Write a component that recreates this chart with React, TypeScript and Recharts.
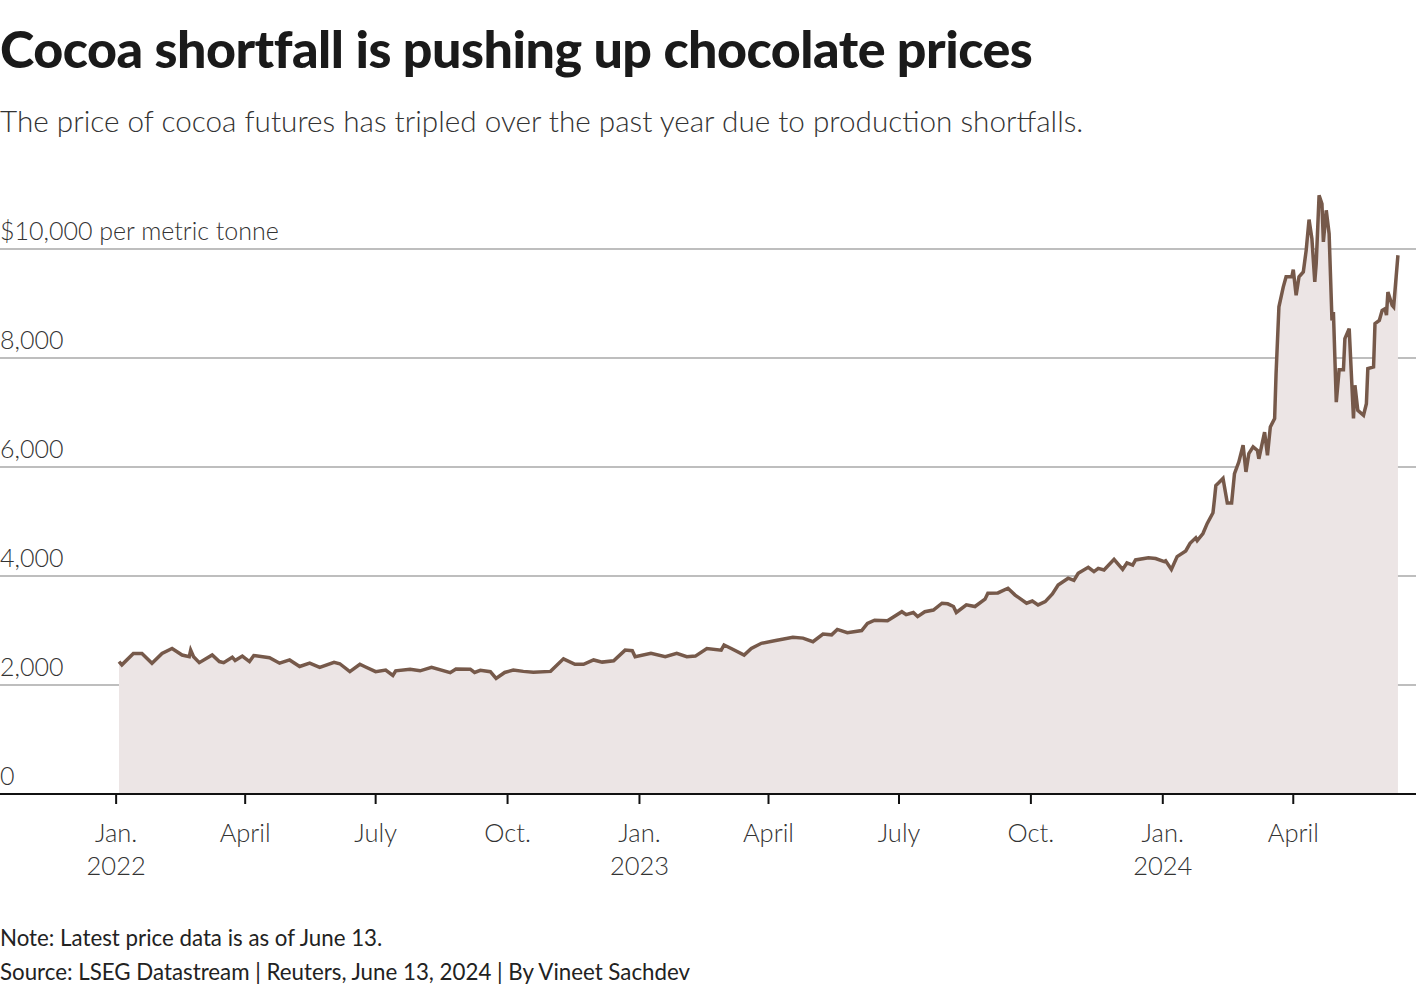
import { AreaChart, Area, XAxis, YAxis, CartesianGrid } from 'recharts';

// Cocoa futures, $ per metric tonne
const DATES = [
  '2022-01-03', '2022-01-05', '2022-01-13', '2022-01-19', '2022-01-26', '2022-02-02', '2022-02-09',
  '2022-02-16', '2022-02-21', '2022-02-22', '2022-02-24', '2022-02-28', '2022-03-09', '2022-03-14',
  '2022-03-17', '2022-03-23', '2022-03-25', '2022-03-30', '2022-04-04', '2022-04-07', '2022-04-18',
  '2022-04-25', '2022-05-02', '2022-05-09', '2022-05-16', '2022-05-23', '2022-06-02', '2022-06-06',
  '2022-06-13', '2022-06-20', '2022-06-24', '2022-07-01', '2022-07-08', '2022-07-13', '2022-07-15',
  '2022-07-25', '2022-08-01', '2022-08-09', '2022-08-22', '2022-08-26', '2022-09-05', '2022-09-08',
  '2022-09-12', '2022-09-19', '2022-09-23', '2022-09-29', '2022-10-05', '2022-10-12', '2022-10-19',
  '2022-10-31', '2022-11-09', '2022-11-17', '2022-11-23', '2022-11-30', '2022-12-06', '2022-12-14',
  '2022-12-22', '2022-12-27', '2022-12-29', '2023-01-09', '2023-01-19', '2023-01-27', '2023-02-03',
  '2023-02-09', '2023-02-17', '2023-02-27', '2023-03-01', '2023-03-06', '2023-03-15', '2023-03-20',
  '2023-03-27', '2023-04-06', '2023-04-18', '2023-04-25', '2023-05-02', '2023-05-09', '2023-05-15',
  '2023-05-19', '2023-05-26', '2023-06-05', '2023-06-09', '2023-06-14', '2023-06-23', '2023-07-03',
  '2023-07-06', '2023-07-11', '2023-07-14', '2023-07-19', '2023-07-25', '2023-07-31', '2023-08-04',
  '2023-08-08', '2023-08-10', '2023-08-17', '2023-08-23', '2023-08-30', '2023-09-01', '2023-09-08',
  '2023-09-15', '2023-09-20', '2023-09-28', '2023-10-02', '2023-10-06', '2023-10-11', '2023-10-16',
  '2023-10-20', '2023-10-27', '2023-10-31', '2023-11-03', '2023-11-10', '2023-11-14', '2023-11-17',
  '2023-11-21', '2023-11-28', '2023-12-04', '2023-12-07', '2023-12-11', '2023-12-13', '2023-12-22',
  '2023-12-27', '2024-01-02', '2024-01-03', '2024-01-07', '2024-01-11', '2024-01-17', '2024-01-20',
  '2024-01-24', '2024-01-25', '2024-01-29', '2024-02-01', '2024-02-05', '2024-02-06', '2024-02-07',
  '2024-02-09', '2024-02-12', '2024-02-15', '2024-02-18', '2024-02-20', '2024-02-23', '2024-02-26',
  '2024-02-28', '2024-03-01', '2024-03-04', '2024-03-07', '2024-03-08', '2024-03-12', '2024-03-14',
  '2024-03-16', '2024-03-19', '2024-03-20', '2024-03-22', '2024-03-25', '2024-03-27', '2024-03-31',
  '2024-04-01', '2024-04-03', '2024-04-05', '2024-04-08', '2024-04-10', '2024-04-12', '2024-04-14',
  '2024-04-16', '2024-04-17', '2024-04-19', '2024-04-21', '2024-04-22', '2024-04-24', '2024-04-26',
  '2024-04-28', '2024-04-29', '2024-05-01', '2024-05-03', '2024-05-06', '2024-05-07', '2024-05-10',
  '2024-05-13', '2024-05-14', '2024-05-16', '2024-05-20', '2024-05-22', '2024-05-23', '2024-05-27',
  '2024-05-28', '2024-05-31', '2024-06-02', '2024-06-04', '2024-06-05', '2024-06-06', '2024-06-09',
  '2024-06-10', '2024-06-13',
];

const PRICES = [
  2430, 2370, 2580, 2580, 2400, 2580, 2670,
  2550, 2520, 2640, 2520, 2410, 2550, 2430,
  2410, 2510, 2450, 2530, 2430, 2540, 2500,
  2400, 2460, 2340, 2400, 2325, 2415, 2390,
  2245, 2380, 2330, 2245, 2275, 2175, 2260,
  2290, 2260, 2325, 2226, 2295, 2290, 2230,
  2270, 2245, 2120, 2230, 2275, 2250, 2235,
  2250, 2480, 2380, 2380, 2460, 2420, 2445,
  2640, 2630, 2520, 2580, 2520, 2580, 2520,
  2530, 2670, 2640, 2735, 2670, 2550, 2670,
  2765, 2815, 2875, 2860, 2795, 2935, 2920,
  3020, 2960, 3000, 3130, 3190, 3180, 3345,
  3290, 3330, 3255, 3345, 3375, 3500, 3490,
  3440, 3330, 3470, 3440, 3575, 3685, 3690,
  3775, 3650, 3500, 3540, 3470, 3530, 3670,
  3835, 3960, 3920, 4050, 4160, 4080, 4140,
  4110, 4305, 4120, 4240, 4200, 4295, 4335,
  4320, 4265, 4280, 4120, 4355, 4460, 4600,
  4700, 4650, 4780, 4965, 5160, 5400, 5660,
  5710, 5790, 5340, 5340, 5880, 6090, 6400,
  5910, 6245, 6370, 6305, 6150, 6640, 6215,
  6735, 6890, 7710, 8940, 9300, 9490, 9490,
  9620, 9150, 9490, 9580, 9975, 10540, 10190,
  9395, 9730, 10985, 10830, 10130, 10710, 10280,
  8690, 8845, 7190, 7785, 7785, 8355, 8540,
  6890, 7500, 7040, 6950, 7160, 7805, 7835,
  8630, 8690, 8875, 8905, 8785, 9210, 8965,
  8935, 9885,
];

const Y_TICKS = [0, 2000, 4000, 6000, 8000, 10000];
const X_TICK_DATES = [
  '2022-01-01', '2022-04-01', '2022-07-01', '2022-10-01',
  '2023-01-01', '2023-04-01', '2023-07-01', '2023-10-01',
  '2024-01-01', '2024-04-01',
];
const MONTH_LABELS: Record<number, string> = { 0: 'Jan.', 3: 'April', 6: 'July', 9: 'Oct.' };

const DAY = 86400000;
const ts = (d: string) => Date.parse(d + 'T00:00:00Z');

const data = DATES.map((d, i) => ({ t: ts(d), price: PRICES[i] }));
const xTicks = X_TICK_DATES.map(ts);

// layout
const CHART_W = 1416;
const CHART_H = 704;
const AXIS_H = 90;
const PLOT_BOTTOM = CHART_H - AXIS_H;
const X_MIN = ts('2022-01-01') - 81 * DAY;
const X_MAX = ts('2024-01-01') + 176.6 * DAY;

const FONT = 'Lato, "Noto Sans", sans-serif';

function YTick({ y, payload }: any) {
  const v = payload.value as number;
  const label = v === 10000 ? '$10,000 per metric tonne' : v.toLocaleString('en-US');
  return (
    <text x={0} y={y - 9} fontSize={25} fontWeight={300} fill="#333" fontFamily={FONT} textAnchor="start">
      {label}
    </text>
  );
}

function XTick({ x, payload }: any) {
  const d = new Date(payload.value);
  const m = d.getUTCMonth();
  return (
    <g>
      <line x1={x} x2={x} y1={PLOT_BOTTOM} y2={PLOT_BOTTOM + 10} stroke="#111" strokeWidth={2} />
      <text x={x} y={PLOT_BOTTOM + 48} fontSize={25.5} fontWeight={300} fill="#333" fontFamily={FONT} textAnchor="middle">
        {MONTH_LABELS[m]}
      </text>
      {m === 0 && (
        <text x={x} y={PLOT_BOTTOM + 81} fontSize={25.5} fontWeight={300} fill="#333" fontFamily={FONT} textAnchor="middle">
          {d.getUTCFullYear()}
        </text>
      )}
    </g>
  );
}

export default function App() {
  return (
    <div style={{ position: 'absolute', left: 0, top: 0, width: 1420, height: 994, background: '#fff', fontFamily: FONT, color: '#1a1a1a' }}>
      <div style={{ position: 'absolute', left: 0, top: 18, fontSize: 52, fontWeight: 900, letterSpacing: -0.5, whiteSpace: 'nowrap', lineHeight: '60px' }}>
        Cocoa shortfall is pushing up chocolate prices
      </div>
      <div style={{ position: 'absolute', left: 0, top: 102, fontSize: 29.7, fontWeight: 300, color: '#333', whiteSpace: 'nowrap', lineHeight: '38px' }}>
        The price of cocoa futures has tripled over the past year due to production shortfalls.
      </div>

      <div style={{ position: 'absolute', left: 0, top: 180 }}>
        <AreaChart width={CHART_W} height={CHART_H} data={data} margin={{ top: 14.5, right: 0, bottom: 0, left: 0 }}>
          <CartesianGrid
            horizontal
            vertical={false}
            horizontalValues={Y_TICKS}
            stroke="#a8a8a8"
            strokeWidth={1.3}
          />
          <XAxis
            dataKey="t"
            type="number"
            domain={[X_MIN, X_MAX]}
            ticks={xTicks}
            allowDataOverflow
            height={AXIS_H}
            axisLine={{ stroke: '#111', strokeWidth: 2 }}
            tickLine={false}
            tick={<XTick />}
            interval={0}
          />
          <YAxis
            type="number"
            domain={[0, 11000]}
            ticks={Y_TICKS}
            width={1}
            mirror
            axisLine={false}
            tickLine={false}
            tick={<YTick />}
            interval={0}
          />
          <Area
            type="linear"
            dataKey="price"
            stroke="#76594a"
            strokeWidth={3.5}
            fill="#ece5e5"
            fillOpacity={1}
            isAnimationActive={false}
            dot={false}
            activeDot={false}
          />
        </AreaChart>
      </div>

      <div style={{ position: 'absolute', left: 0, top: 924, fontSize: 22.3, color: '#222', whiteSpace: 'nowrap', lineHeight: '28px' }}>
        Note: Latest price data is as of June 13.
      </div>
      <div style={{ position: 'absolute', left: 0, top: 958, fontSize: 22.3, color: '#222', whiteSpace: 'nowrap', lineHeight: '28px' }}>
        Source: LSEG Datastream | Reuters, June 13, 2024 | By Vineet Sachdev
      </div>
    </div>
  );
}
